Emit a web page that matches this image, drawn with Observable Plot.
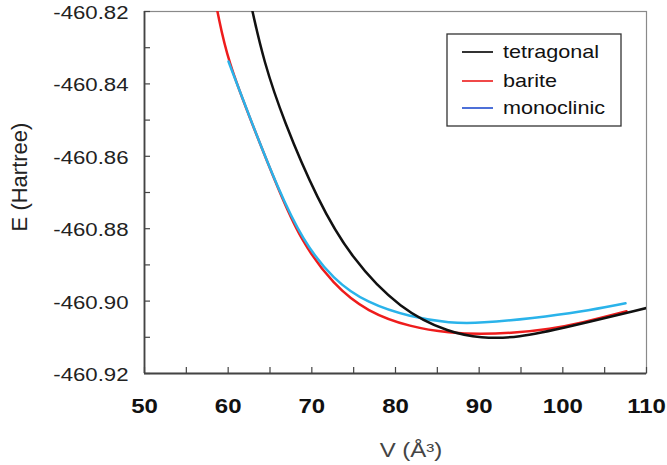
<!DOCTYPE html>
<html><head><meta charset="utf-8">
<script src="https://cdn.jsdelivr.net/npm/d3@7"></script>
<script src="https://cdn.jsdelivr.net/npm/@observablehq/plot@0.6"></script>
<style>
body{margin:0;background:#fff;}
#chart{position:relative;width:667px;height:465px;}
</style>
</head><body><div id="chart"></div>
<script>
const seriesNames = ["tetragonal", "barite", "monoclinic"];
const lineColors = ["#111111", "#ee1c1c", "#2ab3ea"];
const legendColors = ["#333333", "#f04848", "#4d70d8"];

const tetragonalV = [62.91, 64.22, 66.61, 70.68, 74.62, 80.60, 86.57, 90.16, 94.58, 100.56, 110.0];
const tetragonalE = [-460.8200, -460.8335, -460.8501, -460.8721, -460.8879, -460.9025, -460.9088, -460.9102, -460.9102, -460.9072, -460.9019];

const bariteV = [58.72, 59.92, 63.03, 65.90, 68.64, 72.59, 76.65, 81.79, 86.57, 90.16, 94.10, 98.52, 102.11, 107.61];
const bariteE = [-460.8200, -460.8335, -460.8520, -460.8686, -460.8832, -460.8956, -460.9030, -460.9072, -460.9088, -460.9091, -460.9088, -460.9077, -460.9061, -460.9028];

const monoclinicV = [60.04, 63.03, 65.90, 68.88, 72.59, 76.65, 81.79, 86.57, 90.16, 96.49, 102.11, 107.49];
const monoclinicE = [-460.8338, -460.8520, -460.8686, -460.8832, -460.8942, -460.9006, -460.9044, -460.9061, -460.9061, -460.9047, -460.9030, -460.9006];

const xDomain = [50, 110];
const yDomain = [-460.92, -460.82];
const xTicks = [50, 55, 60, 65, 70, 75, 80, 85, 90, 95, 100, 105, 110];
const xLabels = [50, 60, 70, 80, 90, 100, 110];
const yTicks = [-460.92, -460.91, -460.90, -460.89, -460.88, -460.87, -460.86, -460.85, -460.84, -460.83, -460.82];
const yLabels = [-460.92, -460.90, -460.88, -460.86, -460.84, -460.82];
const xTitle = "V (Å³)";
const yTitle = "E (Hartree)";

const seriesData = {
  tetragonal: [tetragonalV, tetragonalE],
  barite: [bariteV, bariteE],
  monoclinic: [monoclinicV, monoclinicE]
};
// draw order: barite, monoclinic, tetragonal
const rows = [];
for (const name of ["barite", "monoclinic", "tetragonal"]) {
  const [vs, es] = seriesData[name];
  vs.forEach((v, i) => rows.push({series: name, V: v, E: es[i]}));
}

const FONT = "'Liberation Sans', Arial, Helvetica, sans-serif";

const plot = Plot.plot({
  width: 667, height: 465,
  marginLeft: 144, marginRight: 21, marginTop: 11, marginBottom: 92,
  style: {fontFamily: FONT, background: "#fff", overflow: "visible"},
  x: {domain: xDomain},
  y: {domain: yDomain},
  color: {domain: seriesNames, range: lineColors},
  marks: [
    Plot.frame({stroke: "#8a8a8a", strokeWidth: 1.2}),
    Plot.ruleX([xDomain[0]], {stroke: "#444", strokeWidth: 1.8}),
    Plot.ruleY([yDomain[0]], {stroke: "#444", strokeWidth: 1.8}),
    Plot.axisX(xTicks, {tickSize: -6, fill: "none", stroke: "#444", strokeWidth: 1.2, label: null}),
    Plot.axisX(xLabels, {tickSize: 0, tickPadding: 25, tickFormat: d => String(d), fontSize: 20, fontWeight: "bold", fill: "#111", label: null}),
    Plot.axisY(yTicks, {tickSize: -6, fill: "none", stroke: "#444", strokeWidth: 1.2, label: null}),
    Plot.axisY(yLabels, {tickSize: 0, tickPadding: 16, tickFormat: d => d.toFixed(2), fontSize: 18.5, fill: "#222", dy: 1.5, label: null}),
    Plot.line(rows, {x: "V", y: "E", z: "series", stroke: "series", strokeWidth: 2.5, curve: "basis", clip: true})
  ]
});

document.getElementById("chart").appendChild(plot);
const svg = plot.tagName.toLowerCase() === "svg" ? plot : plot.querySelector("svg");

function stretch(nodes, k) {
  nodes.forEach(t => {
    const xa = t.getAttribute("x");
    const x = xa !== null && !isNaN(+xa) ? +xa : 0;
    if (xa !== null && !isNaN(+xa)) t.removeAttribute("x");
    const tr = t.getAttribute("transform") || "";
    t.setAttribute("transform", `${tr} translate(${x},0) scale(${k},1)`);
  });
}
stretch(svg.querySelectorAll('g[aria-label="x-axis tick label"] text'), 1.2);
stretch(svg.querySelectorAll('g[aria-label="y-axis tick label"] text'), 1.2);

const s = d3.select(svg);
// axis titles
s.append("text")
  .attr("transform", "translate(27,177) rotate(-90)")
  .attr("text-anchor", "middle")
  .attr("font-family", FONT).attr("font-size", 22).attr("fill", "#222")
  .text(yTitle);
s.append("text")
  .attr("transform", "translate(411,457) scale(1.2,1)")
  .attr("text-anchor", "middle")
  .attr("font-family", FONT).attr("font-size", 20).attr("fill", "#444")
  .text(xTitle);

// legend
const lg = s.append("g");
lg.append("rect").attr("x", 447).attr("y", 34).attr("width", 174).attr("height", 92)
  .attr("fill", "#fff").attr("stroke", "#333").attr("stroke-width", 1.3);
const rowsY = [52, 81, 108];
seriesNames.forEach((name, i) => {
  lg.append("line").attr("x1", 462).attr("x2", 493).attr("y1", rowsY[i]).attr("y2", rowsY[i])
    .attr("stroke", legendColors[i]).attr("stroke-width", 2);
  lg.append("text").attr("transform", `translate(503,${rowsY[i] + 6}) scale(1.2,1)`)
    .attr("text-anchor", "start")
    .attr("font-family", FONT).attr("font-size", 18).attr("fill", "#111")
    .text(name);
});
</script>
</body></html>
